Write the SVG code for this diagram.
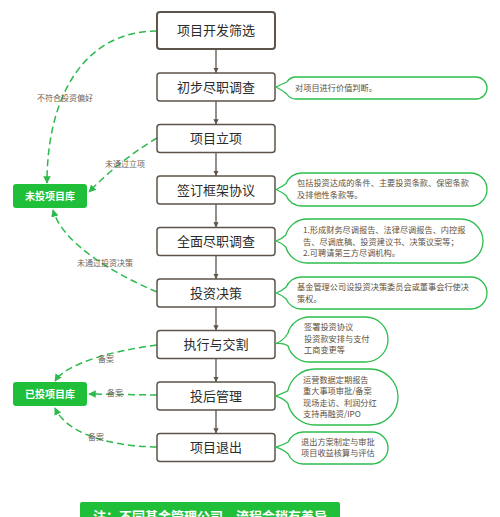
<svg xmlns="http://www.w3.org/2000/svg" width="500" height="517" viewBox="0 0 500 517">
<style>
text{font-family:"Noto Sans CJK SC","Noto Sans",sans-serif}
.box{fill:#fff;stroke:#5d544b;stroke-width:1.5}
.bt{font-size:13px;fill:#2b2b2b;text-anchor:middle}
.v{stroke:#5d544b;stroke-width:1.3;fill:none}
.g{stroke:#2dba4c;stroke-width:1.5;fill:none;stroke-dasharray:7 4}
.lib{fill:#1fbf3a}
.lt{font-size:10px;font-weight:bold;fill:#fff;text-anchor:middle}
.lbl{font-size:8px;fill:#6e6254}
.bub{fill:#fff;stroke:#2dbd4e;stroke-width:1.3}
.ct{font-size:8.2px;fill:#5e5040}
</style>
<defs>
<marker id="ah" viewBox="0 0 10 10" refX="10" refY="5" markerWidth="4" markerHeight="4" orient="auto"><path d="M0,0 L10,5 L0,10 z" fill="#5d544b"/></marker>
<marker id="gh" viewBox="0 0 10 10" refX="9" refY="5" markerWidth="5" markerHeight="5" orient="auto"><path d="M0,0 L10,5 L0,10 z" fill="#2dba4c"/></marker>
</defs>
<g id="connectors">
<path class="v" d="M216,49 V73" marker-end="url(#ah)"/>
<path class="v" d="M216,101 V124.5" marker-end="url(#ah)"/>
<path class="v" d="M216,152.5 V176" marker-end="url(#ah)"/>
<path class="v" d="M216,204 V227.5" marker-end="url(#ah)"/>
<path class="v" d="M216,255.5 V279" marker-end="url(#ah)"/>
<path class="v" d="M216,307 V330.5" marker-end="url(#ah)"/>
<path class="v" d="M216,358.5 V382" marker-end="url(#ah)"/>
<path class="v" d="M216,410 V433.5" marker-end="url(#ah)"/>
<path class="g" d="M157,31 C85,31 47,95 47,183" marker-end="url(#gh)"/>
<path class="g" d="M157,138 Q120,160 89,192" marker-end="url(#gh)"/>
<path class="g" d="M157,292 C110,272 62,242 53,210" marker-end="url(#gh)"/>
<path class="g" d="M157,345 C110,351 66,364 55,381" marker-end="url(#gh)"/>
<path class="g" d="M157,395 L89,394" marker-end="url(#gh)"/>
<path class="g" d="M157,447 C100,446 65,430 55,408" marker-end="url(#gh)"/>
<text class="lbl" x="37" y="101">不符合投资偏好</text>
<text class="lbl" x="105" y="167">未通过立项</text>
<text class="lbl" x="77" y="266">未通过投资决策</text>
<text class="lbl" x="98" y="362">备案</text>
<text class="lbl" x="107" y="396">备案</text>
<text class="lbl" x="88" y="440">备案</text>
</g>
<g id="n1"><rect class="box" x="157" y="12" width="118" height="37" rx="3" style="stroke-width:2"/><text class="bt" x="216" y="35">项目开发筛选</text></g>
<g id="n2"><rect class="box" x="157" y="73" width="118" height="28" rx="3"/><text class="bt" x="216" y="91.5">初步尽职调查</text></g>
<g id="n3"><rect class="box" x="157" y="124.5" width="118" height="28" rx="3"/><text class="bt" x="216" y="143">项目立项</text></g>
<g id="n4"><rect class="box" x="157" y="176" width="118" height="28" rx="3"/><text class="bt" x="216" y="194.5">签订框架协议</text></g>
<g id="n5"><rect class="box" x="157" y="227.5" width="118" height="28" rx="3"/><text class="bt" x="216" y="246">全面尽职调查</text></g>
<g id="n6"><rect class="box" x="157" y="279" width="118" height="28" rx="3"/><text class="bt" x="216" y="297.5">投资决策</text></g>
<g id="n7"><rect class="box" x="157" y="330.5" width="118" height="28" rx="3"/><text class="bt" x="216" y="349">执行与交割</text></g>
<g id="n8"><rect class="box" x="157" y="382" width="118" height="28" rx="3"/><text class="bt" x="216" y="400.5">投后管理</text></g>
<g id="n9"><rect class="box" x="157" y="433.5" width="118" height="28" rx="3"/><text class="bt" x="216" y="452">项目退出</text></g>
<g id="lib1"><rect class="lib" x="13" y="184" width="74" height="24" rx="3"/><text class="lt" x="50" y="199.5">未投项目库</text></g>
<g id="lib2"><rect class="lib" x="13" y="382" width="74" height="24" rx="3"/><text class="lt" x="50" y="397.5">已投项目库</text></g>
<g id="c1"><path class="bub" d="M296,77 H476 A11,11 0 0 1 476,99 H296 A11,11 0 0 1 286.8,94 Q282,90 276,87 Q282,84 286.8,82 A11,11 0 0 1 296,77 Z"/><text class="ct" x="295" y="91">对项目进行价值判断。</text></g>
<g id="c2"><path class="bub" d="M301.5,173 H470.5 A16.5,16.5 0 0 1 470.5,206 H301.5 A16.5,16.5 0 0 1 286.1,195.5 Q282,192 276,189.5 Q282,187 286.1,183.5 A16.5,16.5 0 0 1 301.5,173 Z"/><text class="ct" x="297" y="186">包括投资达成的条件、主要投资条款、保密条款</text><text class="ct" x="297" y="198">及排他性条款等。</text></g>
<g id="c3"><path class="bub" d="M307,219 H461 A22,22 0 0 1 461,263 H307 A22,22 0 0 1 285.8,247 Q282,243 276,241 Q282,239 285.8,235 A22,22 0 0 1 307,219 Z"/><text class="ct" x="303" y="233">1.形成财务尽调报告、法律尽调报告、内控报</text><text class="ct" x="303" y="244.5">告、尽调底稿、投资建议书、决策议案等；</text><text class="ct" x="303" y="256">2.可聘请第三方尽调机构。</text></g>
<g id="c4"><path class="bub" d="M301,277 H471 A16,16 0 0 1 471,309 H301 A16,16 0 0 1 286.2,299 Q282,295 276,293 Q282,291 286.2,287 A16,16 0 0 1 301,277 Z"/><text class="ct" x="297" y="290">基金管理公司设投资决策委员会或董事会行使决</text><text class="ct" x="297" y="302">策权。</text></g>
<g id="c5"><path class="bub" d="M309.5,317 H365.5 A22.5,22.5 0 0 1 365.5,362 H309.5 A22.5,22.5 0 0 1 287.8,345.5 Q283,343 276,343.5 Q283,341 287.8,333.5 A22.5,22.5 0 0 1 309.5,317 Z"/><text class="ct" x="304" y="330">签署投资协议</text><text class="ct" x="304" y="342">投资款安排与支付</text><text class="ct" x="304" y="353">工商变更等</text></g>
<g id="c6"><path class="bub" d="M315,369 H370 A28,28 0 0 1 370,425 H315 A28,28 0 0 1 287.7,403 Q283,398 276,396 Q283,393 287.7,391 A28,28 0 0 1 315,369 Z"/><text class="ct" x="303" y="383">运营数据定期报告</text><text class="ct" x="303" y="394">重大事项审批/备案</text><text class="ct" x="303" y="405.5">现场走访、利润分红</text><text class="ct" x="303" y="416.5">支持再融资/IPO</text></g>
<g id="c7"><path class="bub" d="M303,432 H372 A16,16 0 0 1 372,464 H303 A16,16 0 0 1 288.2,454 Q283,449 276,447 Q283,445 288.2,442 A16,16 0 0 1 303,432 Z"/><text class="ct" x="301" y="445">退出方案制定与审批</text><text class="ct" x="301" y="455.5">项目收益核算与评估</text></g>
<g id="note"><rect class="lib" x="80" y="502" width="260" height="24" rx="2"/><text x="210" y="521" style="font-size:13px;font-weight:bold;fill:#fff;text-anchor:middle">注：不同基金管理公司，流程会稍有差异</text></g>
</svg>
